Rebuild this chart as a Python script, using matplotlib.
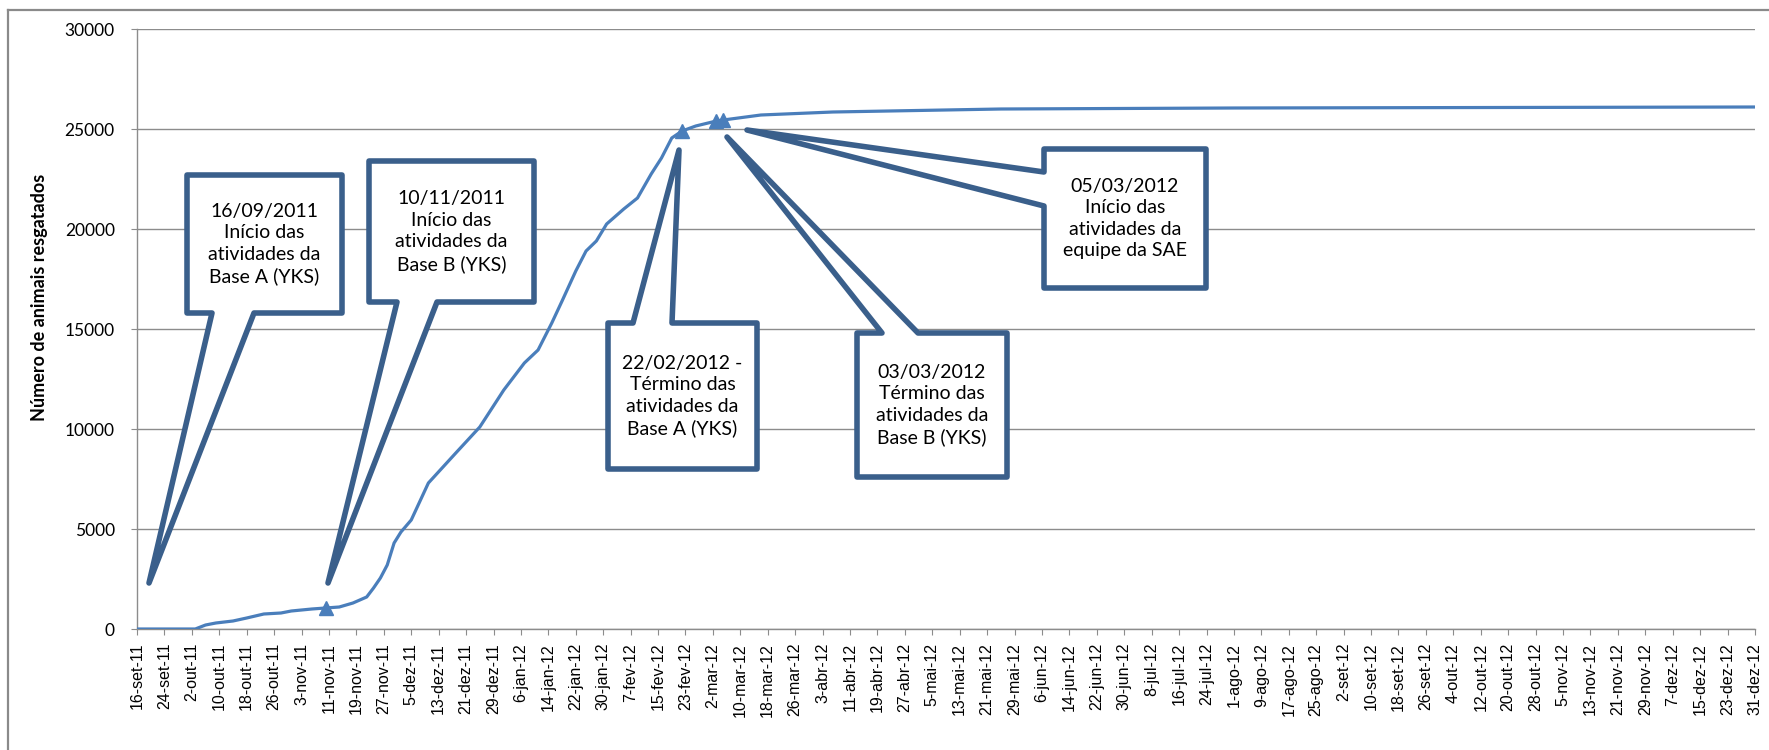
import matplotlib
matplotlib.use('Agg')
import matplotlib.pyplot as plt
from matplotlib.patches import Polygon
from matplotlib.lines import Line2D
import pandas as pd

# cumulative number of rescued animals
dates = ['2011-09-16', '2011-10-03', '2011-10-06', '2011-10-09', '2011-10-14',
         '2011-10-18', '2011-10-23', '2011-10-28', '2011-10-31', '2011-11-06',
         '2011-11-10', '2011-11-14', '2011-11-18', '2011-11-22', '2011-11-24',
         '2011-11-26', '2011-11-28', '2011-11-30', '2011-12-02', '2011-12-05',
         '2011-12-10', '2011-12-18', '2011-12-25', '2012-01-01', '2012-01-07',
         '2012-01-11', '2012-01-15', '2012-01-18', '2012-01-22', '2012-01-25',
         '2012-01-28', '2012-01-31', '2012-02-05', '2012-02-09', '2012-02-13',
         '2012-02-16', '2012-02-19', '2012-02-22', '2012-02-26', '2012-03-03',
         '2012-03-05', '2012-03-16', '2012-04-06', '2012-05-25', '2012-08-01',
         '2012-12-31']
values = [0, 0, 200, 300, 400,
          550, 750, 800, 900, 1000,
          1050, 1100, 1300, 1600, 2050,
          2550, 3200, 4300, 4850, 5450,
          7300, 8800, 10100, 11950, 13300,
          13950, 15300, 16400, 17900, 18900,
          19400, 20250, 21000, 21550, 22750,
          23550, 24550, 24900, 25150, 25400,
          25450, 25700, 25850, 26000, 26050,
          26100]
marker_dates = ['2011-11-10', '2012-02-22', '2012-03-03', '2012-03-05']

meses = ['jan', 'fev', 'mar', 'abr', 'mai', 'jun', 'jul', 'ago', 'set', 'out', 'nov', 'dez']
tick_dates = pd.date_range('2011-09-16', '2012-12-31', freq='8D')
tick_labels = [f"{d.day}-{meses[d.month - 1]}-{d.strftime('%y')}" for d in tick_dates]

callouts = [
    ("16/09/2011\nInício das\natividades da\nBase A (YKS)",
     (187, 175, 342, 313), 'bottom', (212, 254), (149, 583)),
    ("10/11/2011\nInício das\natividades da\nBase B (YKS)",
     (369, 161, 534, 302), 'bottom', (397, 437), (328, 583)),
    ("22/02/2012 -\nTérmino das\natividades da\nBase A (YKS)",
     (608, 323, 757, 469), 'top', (633, 672), (679, 150)),
    ("03/03/2012\nTérmino das\natividades da\nBase B (YKS)",
     (857, 333, 1007, 477), 'top', (882, 918), (727, 137)),
    ("05/03/2012\nInício das\natividades da\nequipe da SAE",
     (1044, 149, 1206, 288), 'left', (172, 206), (747, 130)),
]

W, H = 1769, 750


def px(x, y):
    return (x / W, 1 - y / H)


line_color = '#4A7EBB'
box_color = '#3A5F8B'
grid_color = '#8c8c8c'

fig = plt.figure(figsize=(W / 100, H / 100), dpi=100)
ax = fig.add_axes([137 / W, 1 - 629 / H, (1755 - 137) / W, 600 / H])

d = pd.to_datetime(dates)
s = pd.Series(values, index=d)
md = pd.to_datetime(marker_dates)
ax.plot(d, values, color=line_color, lw=2.3, solid_joinstyle='round', zorder=3)
ax.plot(md, s.loc[md].values, '^', color=line_color, ms=10, ls='none', zorder=3)

ax.set_xlim(pd.Timestamp('2011-09-16'), pd.Timestamp('2012-12-31'))
ax.set_ylim(0, 30000)
ax.set_yticks(range(0, 30001, 5000))
ax.set_xticks(tick_dates)
ax.set_xticklabels(tick_labels, rotation=90, fontsize=11.5, family='Liberation Sans')
for lab in ax.get_yticklabels():
    lab.set_family('Lato')
    lab.set_fontsize(12.5)
ax.yaxis.grid(True, color=grid_color, lw=1)
ax.set_axisbelow(True)
for side in ['top', 'right']:
    ax.spines[side].set_visible(False)
for side in ['left', 'bottom']:
    ax.spines[side].set_color(grid_color)
    ax.spines[side].set_linewidth(1)
ax.tick_params(axis='both', direction='out', length=4, color=grid_color)
ax.tick_params(axis='y', pad=12)
ax.tick_params(axis='x', pad=6)

fig.text(*px(39, 297), 'Número de animais resgatados', rotation=90,
         ha='center', va='center', fontsize=13, fontweight='bold', family='Lato')

# outer chart frame
fig.add_artist(Line2D([8 / W, 8 / W], [1 - 10 / H, 0], color='#8a8a8a', lw=1.6))
fig.add_artist(Line2D([8 / W, 1], [1 - 10 / H, 1 - 10 / H], color='#8a8a8a', lw=1.6))

for text, (L, T, R, B), side, (b1, b2), tip in callouts:
    if side == 'bottom':
        pts = [(L, T), (R, T), (R, B), (b2, B), tip, (b1, B), (L, B)]
    elif side == 'top':
        pts = [(L, T), (b1, T), tip, (b2, T), (R, T), (R, B), (L, B)]
    else:
        pts = [(L, T), (R, T), (R, B), (L, B), (L, b2), tip, (L, b1)]
    poly = Polygon([px(x, y) for x, y in pts], closed=True, facecolor='white',
                   edgecolor=box_color, lw=4, joinstyle='round',
                   transform=fig.transFigure, zorder=5)
    fig.add_artist(poly)
    fig.text(*px((L + R) / 2, (T + B) / 2), text, ha='center', va='center',
             fontsize=14, linespacing=1.32, family='Lato', zorder=6)

fig.savefig('out.png', dpi=100)
